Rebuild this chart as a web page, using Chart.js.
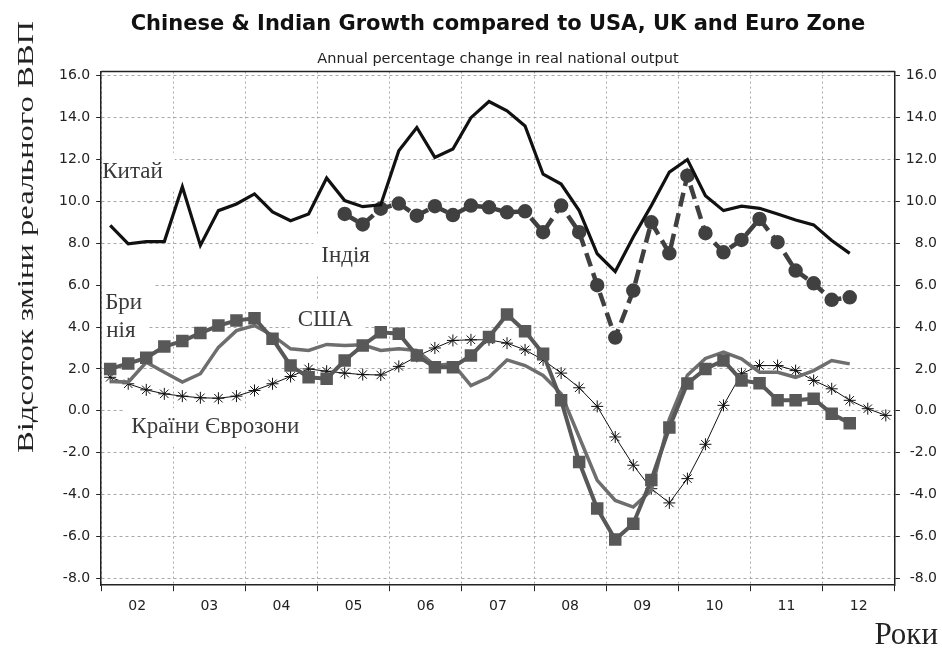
<!DOCTYPE html>
<html>
<head>
<meta charset="utf-8">
<title>Chinese & Indian Growth</title>
<script src="https://cdn.jsdelivr.net/npm/chart.js@4.4.1/dist/chart.umd.min.js"></script>
<style>
  html, body { margin: 0; padding: 0; background: #fff; }
</style>
</head>
<body>
<canvas id="growthChart" width="942" height="649"></canvas>
<script>
// quarterly data, 2002 Q1 .. 2012 Q4 (44 quarters)
const years = ["02", "03", "04", "05", "06", "07", "08", "09", "10", "11", "12"];

const china = [8.85, 7.97, 8.08, 8.08, 10.7, 7.9, 9.56, 9.88, 10.36, 9.5, 9.08, 9.4,
  11.12, 10.04, 9.75, 9.84, 12.42, 13.53, 12.1, 12.5, 14.0, 14.77, 14.33, 13.6,
  11.3, 10.83, 9.56, 7.5, 6.65, 8.3, 9.8, 11.4, 12.0, 10.27, 9.56, 9.77,
  9.67, 9.4, 9.11, 8.88, 8.13, 7.52, null, null];

const india = [null, null, null, null, null, null, null, null, null, null, null, null,
  null, 9.4, 8.9, 9.65, 9.9, 9.32, 9.77, 9.35, 9.8, 9.72, 9.48, 9.53,
  8.53, 9.8, 8.53, 6.0, 3.5, 5.74, 9.0, 7.52, 11.23, 8.48, 7.57, 8.16,
  9.16, 8.05, 6.7, 6.09, 5.3, 5.42, null, null];

const uk = [2.0, 2.26, 2.53, 3.07, 3.33, 3.71, 4.07, 4.31, 4.42, 3.44, 2.16, 1.6,
  1.53, 2.4, 3.12, 3.75, 3.68, 2.64, 2.08, 2.08, 2.64, 3.52, 4.6, 3.8,
  2.72, 0.5, -2.45, -4.67, -6.15, -5.39, -3.3, -0.8, 1.3, 2.0, 2.4, 1.45,
  1.32, 0.5, 0.5, 0.58, -0.14, -0.59, null, null];

const usa = [1.4, 1.37, 2.32, 1.84, 1.37, 1.77, 3.03, 3.83, 4.07, 3.6, 2.96, 2.88,
  3.17, 3.12, 3.15, 2.88, 2.96, 2.88, 2.16, 2.24, 1.2, 1.6, 2.43, 2.16,
  1.69, 0.82, -1.25, -3.32, -4.28, -4.6, -3.8, -0.4, 1.7, 2.5, 2.8, 2.48,
  1.84, 1.84, 1.6, 1.92, 2.4, 2.24, null, null];

const euro = [1.6, 1.29, 1.0, 0.81, 0.7, 0.62, 0.6, 0.7, 0.97, 1.29, 1.64, 2.0,
  1.89, 1.8, 1.73, 1.71, 2.12, 2.6, 3.0, 3.36, 3.39, 3.39, 3.23, 2.91,
  2.43, 1.8, 1.1, 0.21, -1.25, -2.6, -3.72, -4.4, -3.24, -1.6, 0.26, 1.77,
  2.16, 2.16, 1.92, 1.45, 1.05, 0.5, 0.1, -0.22];

// y ticks -8.0 .. 16.0
const yMin = -8.33, yMax = 16.2, yStep = 2;

// text labels on the plot (x in quarters, y in %)
const notes = [
  { text: "Китай", x: 0.06, y: 11.42 },
  { text: "Індія", x: 12.2, y: 7.41 },
  { text: "Бри", x: 0.22, y: 5.17 },
  { text: "нія", x: 0.28, y: 3.83 },
  { text: "США", x: 10.9, y: 4.36 },
  { text: "Країни Єврозони", x: 1.67, y: -0.79 }
];

const yTitle = "Відсоток зміни реального ВВП";
const xTitle = "Роки";

function pts(arr) {
  return arr.map((v, i) => ({ x: i + 0.5, y: v }));
}

const SANS = '"DejaVu Sans", Verdana, sans-serif';
const SERIF = '"Liberation Serif", "Times New Roman", serif';

// white boxes + labels on plot, under the lines
const notesPlugin = {
  id: 'notes',
  beforeDatasetsDraw(chart) {
    const ctx = chart.ctx, xs = chart.scales.x, ys = chart.scales.y;
    const a = chart.chartArea;
    ctx.save();
    ctx.beginPath();
    ctx.rect(a.left + 1, a.top + 1, a.right - a.left - 2, a.bottom - a.top - 2);
    ctx.clip();
    ctx.font = '23px ' + SERIF;
    ctx.textBaseline = 'middle';
    notes.forEach(n => {
      const px = xs.getPixelForValue(n.x), py = ys.getPixelForValue(n.y);
      const w = ctx.measureText(n.text).width;
      ctx.fillStyle = '#fff';
      ctx.fillRect(px - 8, py - 19, w + 20, 38);
    });
    ctx.fillStyle = '#3a3a3a';
    notes.forEach(n => {
      ctx.fillText(n.text, xs.getPixelForValue(n.x), ys.getPixelForValue(n.y));
    });
    ctx.restore();
  },
  afterDraw(chart) {
    const ctx = chart.ctx, a = chart.chartArea;
    ctx.save();
    // frame top line
    ctx.strokeStyle = '#222';
    ctx.lineWidth = 1.5;
    ctx.beginPath();
    ctx.moveTo(a.left, a.top);
    ctx.lineTo(a.right, a.top);
    ctx.stroke();

    // y title, rotated
    ctx.fillStyle = '#222';
    ctx.translate(33, 237);
    ctx.rotate(-Math.PI / 2);
    ctx.font = '32px ' + SERIF;
    const w = ctx.measureText(yTitle).width;
    ctx.scale(432 / w, 0.72);
    ctx.textAlign = 'center';
    ctx.textBaseline = 'alphabetic';
    ctx.fillText(yTitle, 0, 0);
    ctx.restore();

    ctx.save();
    ctx.fillStyle = '#222';
    ctx.font = '31px ' + SERIF;
    ctx.textAlign = 'right';
    ctx.textBaseline = 'alphabetic';
    ctx.fillText(xTitle, 938, 644);
    ctx.restore();
  }
};

const yearTicks = years.map((_, k) => k * 4).concat([years.length * 4]);

const yTickOpts = {
  stepSize: yStep,
  includeBounds: false,
  font: { family: SANS, size: 14 },
  color: '#222',
  padding: 6,
  callback: v => v.toFixed(1)
};

new Chart(document.getElementById('growthChart'), {
  type: 'line',
  data: {
    datasets: [
      {
        label: 'Euro Zone',
        data: pts(euro),
        borderColor: '#111',
        borderWidth: 1,
        pointStyle: 'star',
        pointRadius: 6,
        pointBorderColor: '#111',
        pointBackgroundColor: '#111',
        pointBorderWidth: 1,
        order: 4
      },
      {
        label: 'USA',
        data: pts(usa),
        borderColor: '#6e6e6e',
        borderWidth: 3.5,
        pointRadius: 0,
        order: 3
      },
      {
        label: 'UK',
        data: pts(uk),
        borderColor: '#585858',
        borderWidth: 4,
        pointStyle: 'rect',
        pointRadius: 6,
        pointBackgroundColor: '#585858',
        pointBorderColor: '#585858',
        order: 2
      },
      {
        label: 'India',
        data: pts(india),
        borderColor: '#404040',
        borderWidth: 4.5,
        borderDash: [14, 7],
        pointStyle: 'circle',
        pointRadius: 5,
        pointBackgroundColor: '#404040',
        pointBorderColor: '#404040',
        order: 1
      },
      {
        label: 'China',
        data: pts(china),
        borderColor: '#111',
        borderWidth: 3.2,
        pointRadius: 0,
        order: 0
      }
    ]
  },
  options: {
    responsive: false,
    animation: false,
    spanGaps: false,
    elements: { line: { tension: 0, borderJoinStyle: 'miter' } },
    layout: { padding: { left: 53, right: 5, top: 4, bottom: 27 } },
    scales: {
      x: {
        type: 'linear',
        min: 0,
        max: years.length * 4,
        afterBuildTicks: axis => { axis.ticks = yearTicks.map(v => ({ value: v })); },
        ticks: {
          autoSkip: false,
          maxRotation: 0,
          labelOffset: 36,
          padding: 7,
          font: { family: SANS, size: 14 },
          color: '#222',
          callback: v => years[v / 4] || ''
        },
        grid: {
          color: '#a8a8a8',
          tickColor: '#222',
          tickLength: 6,
          tickBorderDash: []
        },
        border: { color: '#222', width: 1.5, dash: [2, 3] }
      },
      y: {
        position: 'left',
        min: yMin,
        max: yMax,
        ticks: yTickOpts,
        grid: {
          color: '#a8a8a8',
          tickColor: '#222',
          tickLength: 5,
          tickBorderDash: []
        },
        border: { color: '#222', width: 1.5, dash: [3, 3] }
      },
      y2: {
        position: 'right',
        min: yMin,
        max: yMax,
        ticks: Object.assign({}, yTickOpts, { crossAlign: 'far', padding: 3 }),
        grid: {
          drawOnChartArea: false,
          tickColor: '#222',
          tickLength: 5
        },
        border: { color: '#222', width: 1.5 }
      }
    },
    plugins: {
      legend: { display: false },
      tooltip: { enabled: false },
      title: {
        display: true,
        fullSize: false,
        text: 'Chinese & Indian Growth compared to USA, UK and Euro Zone',
        font: { family: SANS, size: 21, weight: 'bold' },
        color: '#111',
        padding: { top: 8, bottom: 4 }
      },
      subtitle: {
        display: true,
        fullSize: false,
        text: 'Annual percentage change in real national output',
        font: { family: SANS, size: 14.5 },
        color: '#222',
        padding: { top: 9, bottom: 4 }
      }
    }
  },
  plugins: [notesPlugin]
});
</script>
</body>
</html>
